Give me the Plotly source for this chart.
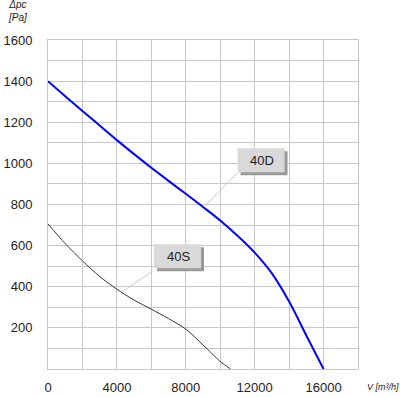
import plotly.graph_objects as go

# 40D curve (blue)
d_flow = [0, 1000, 2000, 3000, 4000, 5000, 6000, 7000, 8000, 9000, 10000, 11000, 12000, 13000, 14000, 15000, 16000]
d_dp = [1400, 1327, 1255, 1184, 1113, 1045, 979, 915, 852, 788, 722, 648, 566, 465, 328, 163, 0]
# 40S curve (black)
s_flow = [0, 1000, 2000, 3000, 4000, 5000, 6000, 7000, 8000, 9000, 10000, 10600]
s_dp = [705, 610, 526, 450, 388, 335, 291, 245, 194, 117, 37, 0]

x_ticks = list(range(0, 18001, 2000))
x_labels = ["0", "", "4000", "", "8000", "", "12000", "", "16000", ""]
y_ticks = list(range(0, 1601, 100))
y_labels = ["" if (v % 200 or v == 0) else str(v) for v in y_ticks]

fig = go.Figure()
fig.add_trace(go.Scatter(x=d_flow, y=d_dp, mode="lines", line=dict(color="#0000ff", width=2, shape="spline", smoothing=1), showlegend=False))
fig.add_trace(go.Scatter(x=s_flow, y=s_dp, mode="lines", line=dict(color="#333333", width=1, shape="spline", smoothing=0.8), showlegend=False))

font = dict(family="Liberation Sans, Arial, sans-serif", size=13, color="#222222")

def leader(px, py, ax, ay):
    fig.add_annotation(x=px, y=py, ax=ax, ay=ay, axref="x", ayref="y", text="",
                       showarrow=True, arrowhead=0, arrowwidth=0.8, arrowcolor="#bbbbbb")

def label(text, cx, cy):
    fig.add_shape(type="rect", xref="x", yref="y", xsizemode="pixel", ysizemode="pixel",
                  xanchor=cx, yanchor=cy, x0=-21, x1=26, y0=-15, y1=9,
                  fillcolor="#9a9a9a", line=dict(width=0), layer="above")
    fig.add_shape(type="rect", xref="x", yref="y", xsizemode="pixel", ysizemode="pixel",
                  xanchor=cx, yanchor=cy, x0=-24, x1=23, y0=-12, y1=12,
                  fillcolor="#d9d9d9", line=dict(width=0), layer="above")
    fig.add_annotation(x=cx, y=cy, text=text, showarrow=False, font=font)

# 40D label
leader(9100, 790, 11050, 960)
label("40D", 12400, 1015)
# 40S label
leader(4300, 375, 6150, 480)
label("40S", 7550, 548)

fig.add_annotation(xref="paper", yref="paper", x=-0.098, y=1.045, text="<i>Δpc</i><br><i>[Pa]</i>",
                   showarrow=False, xanchor="center", yanchor="bottom", align="center",
                   font=dict(family=font["family"], size=10, color="#222222"))
fig.add_annotation(xref="paper", yref="paper", x=1.024, y=-0.055, text="<i>V [m³/h]</i>",
                   showarrow=False, xanchor="left", yanchor="middle",
                   font=dict(family=font["family"], size=9, color="#222222"))

fig.update_xaxes(range=[0, 18000], tickvals=x_ticks, ticktext=x_labels, showgrid=True,
                 gridcolor="#c8c8c8", gridwidth=1, showline=True, linecolor="#c8c8c8", mirror=True,
                 zeroline=False, tickfont=font, ticks="", ticklabelstandoff=6, automargin=False)
fig.update_yaxes(range=[0, 1600], tickvals=y_ticks, ticktext=y_labels, showgrid=True,
                 gridcolor="#c8c8c8", gridwidth=1, showline=True, linecolor="#c8c8c8", mirror=True,
                 zeroline=False, tickfont=font, ticks="", ticklabelstandoff=12, automargin=False)

fig.update_layout(width=400, height=397, margin=dict(l=48, r=42, t=40, b=28, autoexpand=False),
                  plot_bgcolor="white", paper_bgcolor="white")
fig.write_html("out.html", config={"displayModeBar": False},
               post_script="document.body.style.margin='0';document.body.style.overflow='hidden';")
